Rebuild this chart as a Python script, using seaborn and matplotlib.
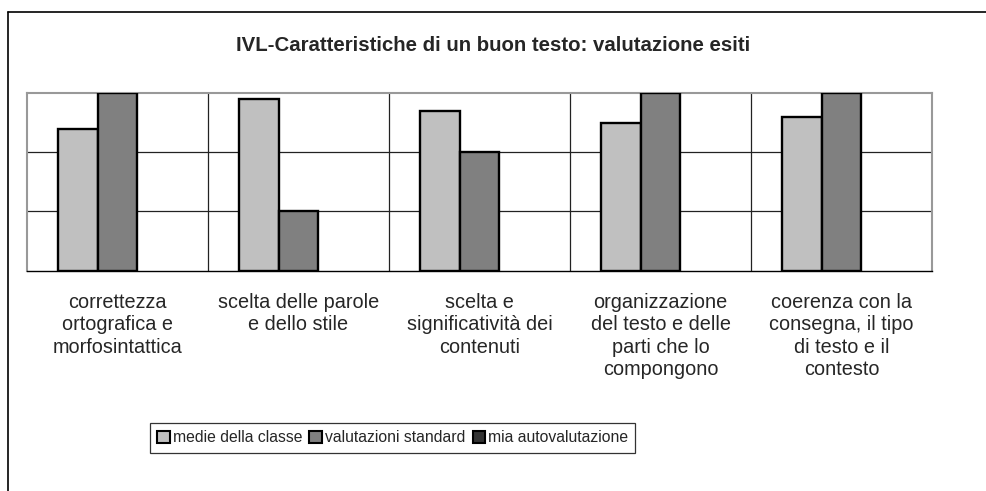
import matplotlib
matplotlib.use("Agg")
import matplotlib.pyplot as plt
from matplotlib.lines import Line2D
from matplotlib.patches import Patch
import numpy as np
import pandas as pd
import seaborn as sns

categories = [
    "correttezza\nortografica e\nmorfosintattica",
    "scelta delle parole\ne dello stile",
    "scelta e\nsignificatività dei\ncontenuti",
    "organizzazione\ndel testo e delle\nparti che lo\ncompongono",
    "coerenza con la\nconsegna, il tipo\ndi testo e il\ncontesto",
]
series = ["medie della classe", "valutazioni standard", "mia autovalutazione"]
medie = [2.4, 2.9, 2.7, 2.5, 2.6]
standard = [3.0, 1.0, 2.0, 3.0, 3.0]
auto = [np.nan, np.nan, np.nan, np.nan, np.nan]  # no bars drawn for this series
colors = ["#c0c0c0", "#808080", "#333333"]

sns.set_style("white")
plt.rcParams["font.family"] = ["Liberation Sans", "DejaVu Sans"]

df = pd.DataFrame({
    "cat": categories * 3,
    "serie": [series[0]] * 5 + [series[1]] * 5 + [series[2]] * 5,
    "val": medie + standard + auto,
})

fig = plt.figure(figsize=(9.87, 4.91), dpi=100)
ax = fig.add_axes([0.0274, 0.4487, 0.9169, 0.3619])

sns.barplot(data=df, x="cat", y="val", hue="serie", hue_order=series,
            order=categories, palette=dict(zip(series, colors)),
            width=0.66, edgecolor="black", linewidth=1.7, ax=ax,
            legend=False, zorder=3)

ax.set_ylim(0, 3)
ax.set_xlim(-0.5, 4.5)
ax.set_yticks([])
for y in [1, 2]:
    ax.axhline(y, color="#222222", lw=0.9, zorder=1)
for x in [0.5, 1.5, 2.5, 3.5]:
    ax.axvline(x, color="#222222", lw=0.9, zorder=1)

ax.set_xlabel("")
ax.set_ylabel("")
ax.set_xticks(range(5))
ax.set_xticklabels(categories, fontsize=14.3, linespacing=1.22)
ax.tick_params(axis="x", length=0, pad=16)
ax.set_xticks(np.arange(-0.5, 5, 1), minor=True)
ax.tick_params(axis="x", which="minor", length=5, width=0.9, color="black",
               direction="out")

for side in ["left", "right", "top"]:
    ax.spines[side].set_color("#999999")
    ax.spines[side].set_linewidth(1.5)
ax.spines["bottom"].set_color("black")
ax.spines["bottom"].set_linewidth(1.0)

fig.text(0.5, 0.907, "IVL-Caratteristiche di un buon testo: valutazione esiti",
         ha="center", va="center", fontsize=14.7, fontweight="bold")

handles = [Patch(facecolor=c, edgecolor="black", linewidth=1.5) for c in colors]
leg = fig.legend(handles, series, loc="center", bbox_to_anchor=(0.398, 0.108),
                 ncol=3, fontsize=11.3, frameon=True, fancybox=False,
                 handlelength=0.8, handleheight=0.8, handletextpad=0.2,
                 columnspacing=0.45, borderpad=0.45)
leg.get_frame().set_edgecolor("black")
leg.get_frame().set_linewidth(0.9)

# outer chart frame (only left and top edges visible)
fig.add_artist(Line2D([0.0081, 0.0081], [0.0, 0.9756], color="black", lw=1.2,
                      transform=fig.transFigure))
fig.add_artist(Line2D([0.0081, 1.0], [0.9756, 0.9756], color="black", lw=1.2,
                      transform=fig.transFigure))

fig.savefig("out.png", dpi=100, facecolor="white")
